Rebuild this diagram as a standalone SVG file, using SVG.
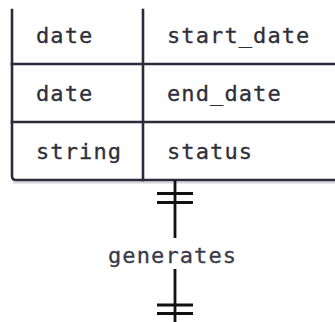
<svg xmlns="http://www.w3.org/2000/svg" width="335" height="322" viewBox="0 0 335 322">
  <style>
    .grid { stroke: #2b2b3b; stroke-width: 2.6; fill: none; stroke-linecap: square; }
    .cell { font-family: "DejaVu Sans Mono", "Liberation Mono", monospace; font-size: 22px; letter-spacing: 1.1px; fill: #2f2f3a; stroke: #2f2f3a; stroke-width: 0.3; }
    .rel { stroke: #111111; stroke-width: 2.8; fill: none; }
    .label { font-family: "DejaVu Sans Mono", "Liberation Mono", monospace; font-size: 22px; letter-spacing: 1.1px; fill: #3a3a48; stroke: #3a3a48; stroke-width: 0.3; }
  </style>
  <rect width="335" height="322" fill="#ffffff"/>

  <!-- entity table: attribute rows -->
  <g id="entity">
    <!-- drop shadow under the bottom edge -->
    <path d="M13 182.5 H335" stroke="#d4d4d8" stroke-width="2" fill="none"/>
    <path class="grid" d="M12 10 V176 Q12 180 16 180 H336"/>
    <path class="grid" d="M143 10 V180"/>
    <path class="grid" d="M12 64 H336 M12 122 H336"/>
    <g id="row-start-date">
      <text class="cell" x="36" y="43">date</text>
      <text class="cell" x="167" y="43">start_date</text>
    </g>
    <g id="row-end-date">
      <text class="cell" x="36" y="101">date</text>
      <text class="cell" x="167" y="101">end_date</text>
    </g>
    <g id="row-status">
      <text class="cell" x="36" y="159">string</text>
      <text class="cell" x="167" y="159">status</text>
    </g>
  </g>

  <!-- relationship: exactly one to exactly one -->
  <g id="connectors">
    <path class="rel" d="M175 180 V238"/>
    <path class="rel" d="M157 193.5 H193 M157 202.5 H193"/>
    <path class="rel" d="M175 269 V322"/>
    <path class="rel" d="M157 305 H193 M157 313.5 H193"/>
  </g>
  <g id="relation-label">
    <text class="label" x="108" y="263">generates</text>
  </g>
</svg>
